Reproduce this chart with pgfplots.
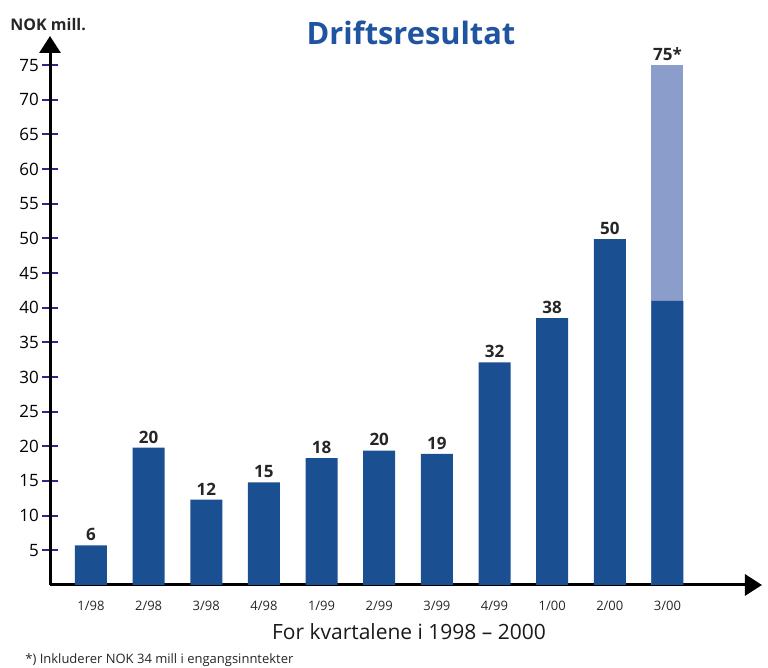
\documentclass[border=0pt]{standalone}
\usepackage{pgfplots}
\pgfplotsset{compat=1.18}
\usepackage{fontspec}
\setmainfont{Open Sans}
\usetikzlibrary{arrows.meta}
\definecolor{barblue}{HTML}{1A4F91}
\definecolor{lightblue}{HTML}{8A9DCB}
\definecolor{titleblue}{HTML}{1F55A0}
\definecolor{tickblue}{HTML}{2B2A86}
\begin{document}
\begin{tikzpicture}
\path[use as bounding box] (0pt,0pt) rectangle (384pt,334pt);
\begin{axis}[
  at={(25pt,41.5pt)}, anchor=south west,
  scale only axis, width=356pt, height=274.5pt,
  xmin=-0.711, xmax=11.64, ymin=0, ymax=79.2,
  axis x line=bottom, axis y line=left,
  axis line style={line width=1.5pt, -{Triangle[length=8.5pt,width=10.5pt]}},
  ytick={5,10,...,75},
  xtick={0,...,10},
  xticklabels={1/98,2/98,3/98,4/98,1/99,2/99,3/99,4/99,1/00,2/00,3/00},
  major x tick style={draw=none},
  major y tick style={tickblue, line width=1pt},
  major tick length=8pt, tick align=center,
  yticklabel style={font=\fontsize{8.5}{9}\selectfont, text=black, xshift=2pt},
  xticklabel style={font=\fontsize{6.5}{7}\selectfont, text=black!85, yshift=3.5pt},
  /pgf/number format/assume math mode=true,
  ybar, bar width=16pt,
  every node near coord/.append style={font=\fontsize{8.5}{9}\selectfont\bfseries, text=black!85, inner sep=2pt},
]
% light top part of the last bar (total 75, of which 34 one-off income)
\addplot[fill=lightblue, draw=none, bar shift=0pt] coordinates {(10,75)};
% operating result (dark)
\addplot[fill=barblue, draw=none, bar shift=0pt] coordinates {
 (0,5.7) (1,19.8) (2,12.3) (3,14.8) (4,18.3) (5,19.4) (6,18.9)
 (7,32.1) (8,38.5) (9,49.9) (10,41)};
% value labels
\addplot[draw=none, fill=none, bar shift=0pt, nodes near coords, point meta=explicit symbolic] table[meta=lab] {
x y lab
0 5.7 6
1 19.8 20
2 12.3 12
3 14.8 15
4 18.3 18
5 19.4 20
6 18.9 19
7 32.1 32
8 38.5 38
9 49.9 50
10 75 75*
};
\end{axis}
\node[font=\fontsize{15.4}{16}\selectfont\bfseries, text=titleblue] at (205.5pt,317.5pt) {Driftsresultat};
\node[anchor=west, font=\fontsize{8}{9}\selectfont\bfseries, text=black!85, inner sep=0pt] at (5pt,321.5pt) {NOK mill.};
\node[font=\fontsize{10.5}{11}\selectfont, text=black!90] at (204.5pt,18pt) {For kvartalene i 1998 – 2000};
\node[anchor=west, font=\fontsize{6.5}{7}\selectfont, text=black!85, inner sep=0pt] at (12.5pt,4pt) {*) Inkluderer NOK 34 mill i engangsinntekter};
\end{tikzpicture}
\end{document}
